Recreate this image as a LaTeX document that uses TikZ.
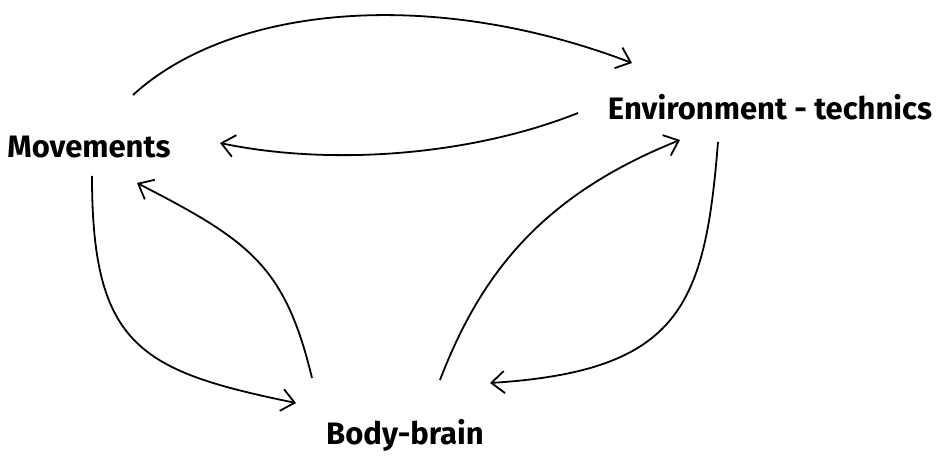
\documentclass[tikz,border=0pt]{standalone}
\usepackage{fontspec}
\setmainfont{Fira Sans}
\usetikzlibrary{arrows.meta}
\tikzset{
	label/.style={font=\fontsize{31}{36}\selectfont\bfseries, inner sep=0pt},
	link/.style={line width=1.8pt, -{Straight Barb[length=13pt,width=22pt,line width=1.8pt]}}
}

\begin{document}
\begin{tikzpicture}[x=1pt, y=1pt]
			%%%%% START %%%%%
			
			\useasboundingbox (0, 0) rectangle (946, 456);
			
			\node[label] (mov) at (89, 309) {Movements};
			\node[label] (env) at (770, 349) {Environment - technics};
			\node[label] (body) at (405, 21) {Body-brain};
			
			\draw[link] ([shift={(44,52)}]mov.center) .. controls (230, 450) and (430, 470) .. ([shift={(-138,44)}]env.center);
			\draw[link] ([shift={(-192,-6)}]env.center) .. controls (470, 300) and (330, 290) .. ([shift={(131,4)}]mov.center);
			
			\draw[link] ([shift={(3,-29)}]mov.center) .. controls (92, 110) and (140, 85) .. ([shift={(-109,32)}]body.center);
			\draw[link] ([shift={(-93,57)}]body.center) .. controls (285, 190) and (250, 215) .. ([shift={(48,-36)}]mov.center);
			
			\draw[link] ([shift={(35,55)}]body.center) .. controls (480, 180) and (540, 260) .. ([shift={(-90,-33)}]env.center);
			\draw[link] ([shift={(-52,-35)}]env.center) .. controls (705, 150) and (680, 85) .. ([shift={(85,52)}]body.center);
			
			%%%%% END %%%%%
\end{tikzpicture}
\end{document}
